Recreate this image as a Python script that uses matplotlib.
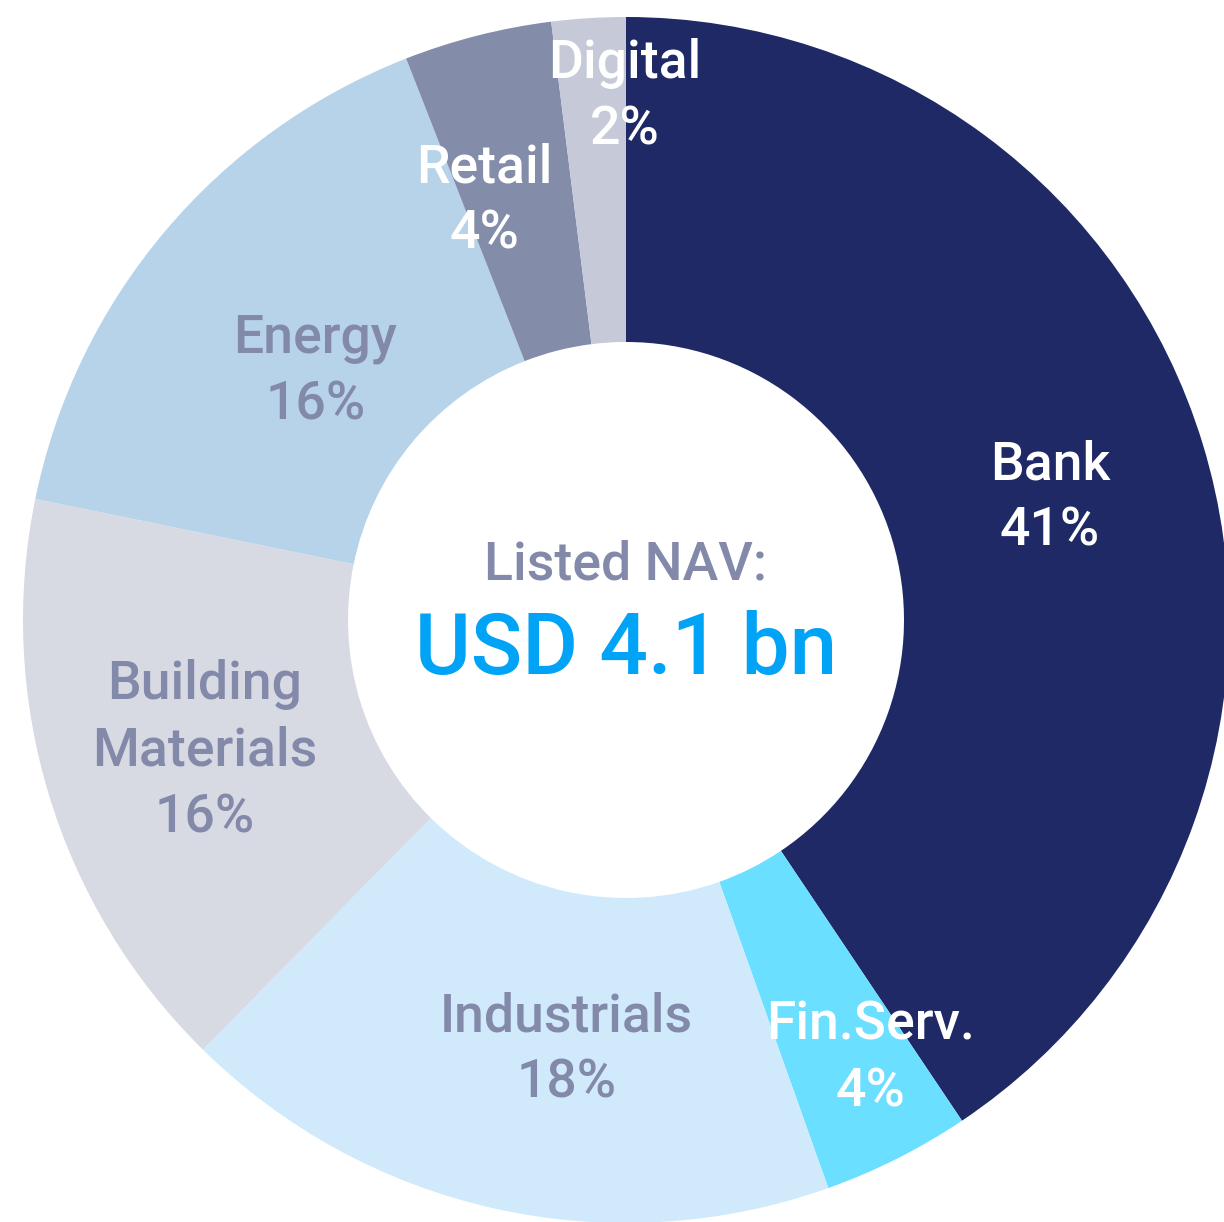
import numpy as np
import matplotlib
matplotlib.use("Agg")
import matplotlib.pyplot as plt

# Sector split of listed NAV (percent)
sectors = ["Bank", "Fin.Serv.", "Industrials", "Building\nMaterials", "Energy", "Retail", "Digital"]
shares = [41, 4, 18, 16, 16, 4, 2]
colors = ["#1e2966", "#6adfff", "#d0eafc", "#d8dae3", "#b7d3ea", "#838da9", "#c5c9d8"]
label_colors = ["white", "white", "#8289a9", "#8289a9", "#8289a9", "white", "white"]

# label placement: radius as a fraction of the outer radius, angular nudge in degrees
label_radius = [0.733, 0.828, 0.715, 0.730, 0.663, 0.738, 0.872]
label_shift = [0.5, -2.6, -4.5, 0.0, -1.1, -4.3, 3.4]

center_title = "Listed NAV:"
center_value = "USD 4.1 bn"

plt.rcParams["font.family"] = ["Roboto", "DejaVu Sans"]

W, H = 1224, 1222
fig = plt.figure(figsize=(W / 100, H / 100), dpi=100)
ax = fig.add_axes([0, 0, 1, 1])

cx, cy, R = 626.0, 620.0, 603.0

wedges, _ = ax.pie(shares, colors=colors, startangle=90, counterclock=False,
                   radius=1.0, wedgeprops=dict(width=1 - 278.0 / 603.0, linewidth=0),
                   frame=True)
ax.set_xlim(-cx / R, (W - cx) / R)
ax.set_ylim(-(H - cy) / R, cy / R)
ax.axis("off")

dy = -3.0 / R  # small downward nudge of the two-line labels
for w, name, val, col, r, sh in zip(wedges, sectors, shares, label_colors, label_radius, label_shift):
    mid = np.deg2rad((w.theta1 + w.theta2) / 2 - sh)
    x, y = r * np.cos(mid), r * np.sin(mid) + dy
    ax.text(x, y, f"{name}\n{val}%", ha="center", va="center", color=col,
            fontsize=38.5, fontweight="medium", linespacing=1.39, multialignment="center")

ax.text(0, (cy - 580) / R, center_title, ha="center", va="baseline", color="#8289a9",
        fontsize=38.5, fontweight="medium")
ax.text(0, (cy - 674) / R, center_value, ha="center", va="baseline", color="#00a3f5",
        fontsize=61.5, fontweight="medium")

fig.savefig("out.png", dpi=100)
